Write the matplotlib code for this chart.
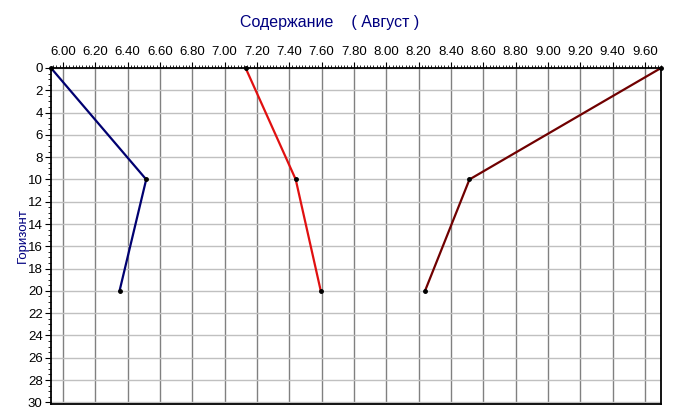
import numpy as np
import matplotlib.pyplot as plt
from matplotlib.ticker import MultipleLocator, FormatStrFormatter

plt.rcParams['font.family'] = ['Liberation Sans', 'DejaVu Sans']

horizon = np.array([0, 10, 20])
s1 = np.array([5.926, 6.515, 6.35])
s2 = np.array([7.13, 7.44, 7.595])
s3 = np.array([9.70, 8.515, 8.24])

fig = plt.figure(figsize=(6.75, 4.19), dpi=100)
ax = fig.add_axes([51/675, 1-404/419, (661-51)/675, (404-68)/419])

ax.set_xlim(5.926, 9.70)
ax.set_ylim(30.15, 0)

ax.xaxis.set_major_locator(MultipleLocator(0.2))
ax.xaxis.set_minor_locator(MultipleLocator(0.02))
ax.xaxis.set_major_formatter(FormatStrFormatter('%.2f'))
ax.yaxis.set_major_locator(MultipleLocator(2))
ax.yaxis.set_minor_locator(MultipleLocator(0.5))

ax.xaxis.tick_top()
ax.tick_params(axis='both', which='major', labelsize=9.5, length=4, width=0.8, pad=2)
ax.tick_params(axis='x', which='major', pad=3)
ax.tick_params(axis='both', which='minor', length=2.5, width=0.6)

ax.grid(axis='x', which='major', color='#808080', lw=1)
ax.grid(axis='y', which='major', color='#c0c0c0', lw=1)
ax.set_axisbelow(True)

for sp in ax.spines.values():
    sp.set_linewidth(1.3)

ax.plot(s1, horizon, color='#000070', lw=1.6, marker='o', ms=2.5, mfc='black', mec='black', clip_on=False)
ax.plot(s2, horizon, color='#e01010', lw=1.6, marker='o', ms=2.5, mfc='black', mec='black', clip_on=False)
ax.plot(s3, horizon, color='#700000', lw=1.6, marker='o', ms=2.5, mfc='black', mec='black', clip_on=False)

ax.set_ylabel('Горизонт', color='#000080', fontsize=9.5, labelpad=-1)
fig.text(330/675, 1-23/419, 'Содержание    ( Август )', color='#000080', fontsize=11.5,
         ha='center', va='center')

fig.savefig('out.png', dpi=100)
